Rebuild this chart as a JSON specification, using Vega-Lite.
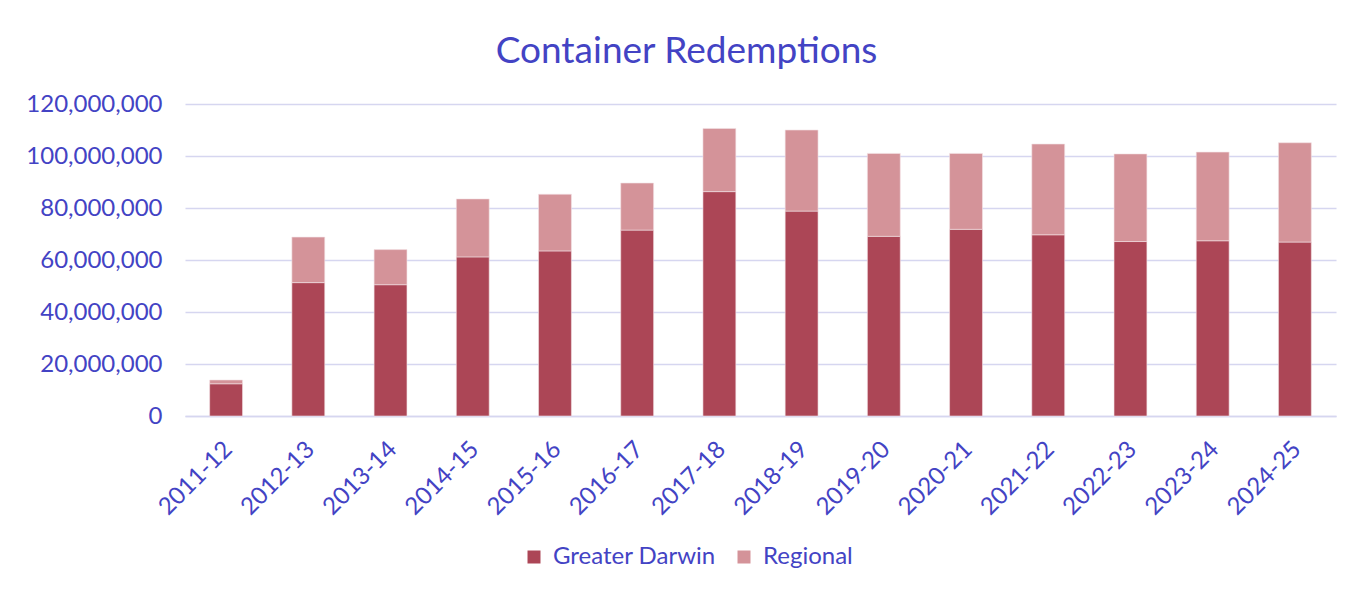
{
  "$schema": "https://vega.github.io/schema/vega-lite/v6.json",
  "width": 1151,
  "height": 312,
  "autosize": {"type": "none"},
  "padding": {"left": 185, "top": 104, "right": 33, "bottom": 176},
  "background": "white",
  "title": {
    "text": "Container Redemptions",
    "anchor": "middle",
    "frame": "group",
    "dx": -74,
    "dy": 50,
    "offset": 42,
    "baseline": "alphabetic",
    "font": "Lato",
    "fontSize": 37,
    "fontWeight": "normal",
    "color": "#4343C4"
  },
  "data": {
    "values": [
      {"year": "2011-12", "region": "Greater Darwin", "value": 12400000},
      {"year": "2011-12", "region": "Regional", "value": 1450000},
      {"year": "2012-13", "region": "Greater Darwin", "value": 51300000},
      {"year": "2012-13", "region": "Regional", "value": 17500000},
      {"year": "2013-14", "region": "Greater Darwin", "value": 50500000},
      {"year": "2013-14", "region": "Regional", "value": 13500000},
      {"year": "2014-15", "region": "Greater Darwin", "value": 61200000},
      {"year": "2014-15", "region": "Regional", "value": 22300000},
      {"year": "2015-16", "region": "Greater Darwin", "value": 63500000},
      {"year": "2015-16", "region": "Regional", "value": 21800000},
      {"year": "2016-17", "region": "Greater Darwin", "value": 71500000},
      {"year": "2016-17", "region": "Regional", "value": 18100000},
      {"year": "2017-18", "region": "Greater Darwin", "value": 86300000},
      {"year": "2017-18", "region": "Regional", "value": 24300000},
      {"year": "2018-19", "region": "Greater Darwin", "value": 78800000},
      {"year": "2018-19", "region": "Regional", "value": 31200000},
      {"year": "2019-20", "region": "Greater Darwin", "value": 69100000},
      {"year": "2019-20", "region": "Regional", "value": 31900000},
      {"year": "2020-21", "region": "Greater Darwin", "value": 71800000},
      {"year": "2020-21", "region": "Regional", "value": 29200000},
      {"year": "2021-22", "region": "Greater Darwin", "value": 69700000},
      {"year": "2021-22", "region": "Regional", "value": 34900000},
      {"year": "2022-23", "region": "Greater Darwin", "value": 67100000},
      {"year": "2022-23", "region": "Regional", "value": 33700000},
      {"year": "2023-24", "region": "Greater Darwin", "value": 67400000},
      {"year": "2023-24", "region": "Regional", "value": 34100000},
      {"year": "2024-25", "region": "Greater Darwin", "value": 66900000},
      {"year": "2024-25", "region": "Regional", "value": 38200000}
    ]
  },
  "mark": {"type": "bar", "stroke": "#F3E3E6", "strokeWidth": 0.6},
  "encoding": {
    "x": {
      "field": "year",
      "type": "nominal",
      "sort": null,
      "scale": {"paddingInner": 0.6, "paddingOuter": 0.3},
      "axis": {
        "title": null,
        "labelAngle": -45,
        "labelFont": "Lato",
        "labelFontSize": 24,
        "labelColor": "#4343C4",
        "labelPadding": 21,
        "labelOffset": -6,
        "ticks": false,
        "domain": true,
        "domainColor": "#D6D6F0",
        "domainWidth": 1.5
      }
    },
    "y": {
      "field": "value",
      "type": "quantitative",
      "stack": "zero",
      "scale": {"domain": [0, 120000000]},
      "axis": {
        "title": null,
        "values": [0, 20000000, 40000000, 60000000, 80000000, 100000000, 120000000],
        "format": ",d",
        "labelFont": "Lato",
        "labelFontSize": 24,
        "labelColor": "#4343C4",
        "labelPadding": 23,
        "ticks": false,
        "domain": false,
        "grid": true,
        "gridColor": "#D6D6F0",
        "gridWidth": 1.5
      }
    },
    "color": {
      "field": "region",
      "type": "nominal",
      "scale": {"domain": ["Greater Darwin", "Regional"], "range": ["#AC4656", "#D49399"]},
      "legend": {
        "title": null,
        "orient": "none",
        "direction": "horizontal",
        "legendX": 337,
        "legendY": 441,
        "padding": 0,
        "symbolType": "square",
        "symbolSize": 169,
        "symbolStrokeWidth": 0,
        "labelFont": "Lato",
        "labelFontSize": 24,
        "labelColor": "#4343C4",
        "labelOffset": 7,
        "labelLimit": 400,
        "columnPadding": 16
      }
    },
    "order": {"field": "region", "sort": "ascending"}
  },
  "config": {"view": {"stroke": null}}
}
